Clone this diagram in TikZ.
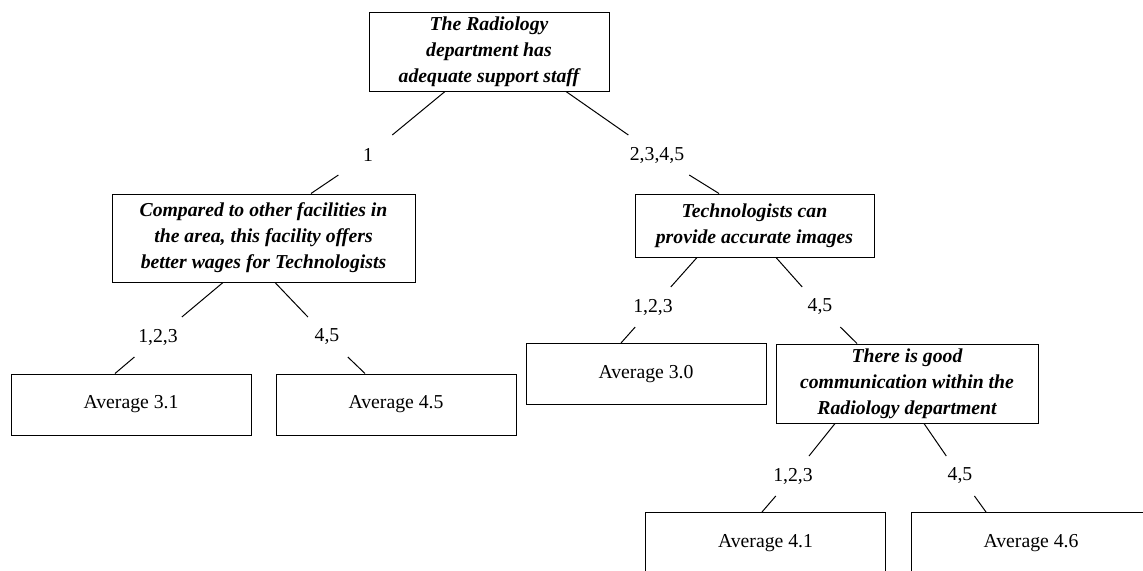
\documentclass[tikz,border=0pt]{standalone}
\usepackage{fontspec}
\setmainfont{Liberation Serif}
\usetikzlibrary{calc}

\tikzset{every picture/.style={line width=0.75pt}}
\tikzset{
	question/.style={draw, align=center, inner sep=0pt,
		font=\fontsize{14.8}{19.5}\selectfont\bfseries\itshape},
	leaf/.style={draw, inner sep=0pt, minimum width=180pt, minimum height=45.75pt,
		font=\fontsize{14.8}{19.5}\selectfont},
	answer/.style={inner sep=0pt, minimum width=60pt, minimum height=29.25pt,
		font=\fontsize{14.8}{19.5}\selectfont}}

\begin{document}
\begin{tikzpicture}[x=0.75pt,y=0.75pt,yscale=-1,xscale=1]
	%set diagram from (0,0) to (1143,571), the last row runs off the bottom edge
	\clip (0,0) rectangle (1143,571);

	%Shape: Rectangle [root question]
	\node (staff) at (489,51.5) [question, minimum width=180pt, minimum height=59.25pt] {The Radiology\\department has\\adequate support staff};
	%Shape: Rectangle [left question]
	\node (wages) at (263.5,238) [question, minimum width=227.25pt, minimum height=66pt] {Compared to other facilities in\\the area, this facility offers\\better wages for Technologists};
	%Shape: Rectangle [right question]
	\node (images) at (754.5,225.5) [question, minimum width=179.25pt, minimum height=47.25pt] {Technologists can\\provide accurate images};
	%Shape: Rectangle [lower question]
	\node (comm) at (907,383.5) [question, minimum width=196.5pt, minimum height=59.25pt] {There is good\\communication within the\\Radiology department};

	%Shape: Rectangle [averages]
	\node (avgA) at (131,404.5) [leaf] {Average 3.1};
	\node (avgB) at (396,404.5) [leaf] {Average 4.5};
	\node (avgC) at (646,374) [leaf] {Average 3.0};
	\node (avgD) at (765.5,543) [leaf] {Average 4.1};
	\node (avgE) at (1031,543) [leaf] {Average 4.6};

	% Text Node
	\node (ansA) at (368,155) [answer] {1};
	% Text Node
	\node (ansB) at (657,155) [answer] {2,3,4,5};
	% Text Node
	\node (ansC) at (158,337) [answer] {1,2,3};
	% Text Node
	\node (ansD) at (327,337) [answer] {4,5};
	% Text Node
	\node (ansE) at (653,307) [answer] {1,2,3};
	% Text Node
	\node (ansF) at (820,307) [answer] {4,5};
	% Text Node
	\node (ansG) at (793,476) [answer] {1,2,3};
	% Text Node
	\node (ansH) at (960,476) [answer] {4,5};

	%Straight Lines [root split]
	\draw ($(staff.south)+(-44,0)$) -- (ansA);
	\draw (ansA) -- ($(wages.north)+(47.5,0)$);
	\draw ($(staff.south)+(77,0)$) -- (ansB);
	\draw (ansB) -- ($(images.north)+(-35.5,0)$);
	%Straight Lines [left split]
	\draw ($(wages.south)+(-40.5,0)$) -- (ansC);
	\draw (ansC) -- ($(avgA.north)+(-16,0)$);
	\draw ($(wages.south)+(11.5,0)$) -- (ansD);
	\draw (ansD) -- ($(avgB.north)+(-31,0)$);
	%Straight Lines [right split]
	\draw ($(images.south)+(-57.5,0)$) -- (ansE);
	\draw (ansE) -- ($(avgC.north)+(-25,0)$);
	\draw ($(images.south)+(21.5,0)$) -- (ansF);
	\draw (ansF) -- ($(comm.north)+(-50,0)$);
	%Straight Lines [lower split]
	\draw ($(comm.south)+(-72,0)$) -- (ansG);
	\draw (ansG) -- ($(avgD.north)+(-3.5,0)$);
	\draw ($(comm.south)+(17,0)$) -- (ansH);
	\draw (ansH) -- ($(avgE.north)+(-45,0)$);

\end{tikzpicture}
\end{document}
